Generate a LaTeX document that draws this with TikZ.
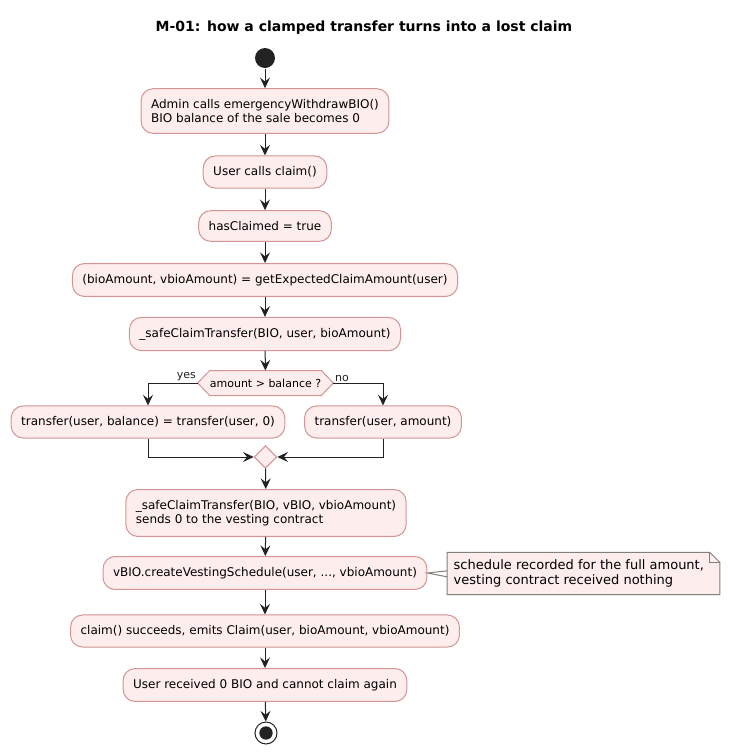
\documentclass[tikz,border=0pt]{standalone}
\usepackage{fontspec}
\setmainfont{DejaVu Sans}
\usetikzlibrary{arrows.meta,shapes.geometric}
\definecolor{actfill}{HTML}{FDEDEC}
\definecolor{actline}{HTML}{D29494}
\definecolor{ink}{HTML}{222222}
\tikzset{
  actnode/.style = {align=left, inner xsep=7.5pt, inner ysep=8pt,
    font=\fontsize{9}{10.5}\selectfont},
  act_box/.style = {actnode, draw=actline, fill=actfill, rounded corners=9pt},% action
  act_dec/.style = {actnode, minimum width=101pt, minimum height=18pt, inner sep=0pt,
    font=\fontsize{8.25}{10}\selectfont},% decision, outline drawn afterwards
  act_merge/.style = {diamond, draw=actline, fill=actfill, minimum width=17pt,
    minimum height=17pt, inner sep=0pt},% merge
  act_start/.style = {circle, fill=ink, minimum size=15pt, inner sep=0pt},
  act_stop/.style = {circle, draw=ink, minimum size=16.5pt, inner sep=0pt,
    path picture={\fill[ink] (path picture bounding box.center) circle (5pt);}},
  notenode/.style = {align=left, inner xsep=4.5pt, inner ysep=5pt,
    font=\fontsize{9.75}{11.6}\selectfont},
  branchlbl/.style = {font=\fontsize{8.25}{10}\selectfont, inner sep=1pt}
}
\begin{document}
\begin{tikzpicture}[x=0.75pt, y=-0.75pt, line width=0.75pt,
  >={Stealth[length=8pt, width=7.5pt, inset=3pt]}]
  \useasboundingbox (0,0) rectangle (730,754);
  \node [font=\bfseries\fontsize{10.5}{12}\selectfont] (title) at (364,28)
    {M-01: how a clamped transfer turns into a lost claim};
  \node [act_start] (start) at (265,58) {};
  \node [act_box] (withdraw) at (265,111)
    {Admin calls emergencyWithdrawBIO()\\BIO balance of the sale becomes 0};
  \node [act_box] (callclaim) at (265,172) {User calls claim()};
  \node [act_box] (hasclaimed) at (265,226) {hasClaimed = true};
  \node [act_box] (expected) at (265,280)
    {(bioAmount, vbioAmount) = getExpectedClaimAmount(user)};
  \node [act_box] (safebio) at (265,334) {\_safeClaimTransfer(BIO, user, bioAmount)};
  \node [act_dec] (check) at (265.5,383) {amount > balance ?};
  \draw [actline, fill=actfill] (check.west) -- ([xshift=9pt]check.north west)
    -- ([xshift=-9pt]check.north east) -- (check.east)
    -- ([xshift=-9pt]check.south east) -- ([xshift=9pt]check.south west) -- cycle;
  \node [act_dec] at (check) {amount > balance ?};
  \node [act_box] (clamped) at (148,422) {transfer(user, balance) = transfer(user, 0)};
  \node [act_box] (full) at (383,422) {transfer(user, amount)};
  \node [act_merge] (merge) at (265.5,457) {};
  \node [act_box] (safevbio) at (266,513)
    {\_safeClaimTransfer(BIO, vBIO, vbioAmount)\\sends 0 to the vesting contract};
  \node [act_box] (schedule) at (265,573)
    {vBIO.createVestingSchedule(user, ..., vbioAmount)};
  \node [notenode] (note) at (583.5,573.5)
    {schedule recorded for the full amount,\hspace*{7pt}\\vesting contract received nothing};
  \node [act_box] (emit) at (265,631)
    {claim() succeeds, emits Claim(user, bioAmount, vbioAmount)};
  \node [act_box] (lost) at (265,685) {User received 0 BIO and cannot claim again};
  \node [act_stop] (stop) at (266,733) {};
  % note outline with folded corner
  \draw [gray, fill=actfill] (note.north west) -- ([xshift=-7.5pt]note.north east)
    -- ([yshift=-7.5pt]note.north east) -- (note.south east) -- (note.south west) -- cycle;
  \draw [gray] ([xshift=-7.5pt]note.north east) |- ([yshift=-7.5pt]note.north east);
  \node [notenode] at (note)
    {schedule recorded for the full amount,\hspace*{7pt}\\vesting contract received nothing};
  \draw [gray] ([yshift=2pt]note.west) -- (schedule.east) -- ([yshift=-2.5pt]note.west);
  % flow
  \draw [->, ink] (start) -- (withdraw);
  \draw [->, ink] (withdraw) -- (callclaim);
  \draw [->, ink] (callclaim) -- (hasclaimed);
  \draw [->, ink] (hasclaimed) -- (expected);
  \draw [->, ink] (expected) -- (safebio);
  \draw [->, ink] (safebio) -- (check);
  \draw [->, ink] (check.west) -| (clamped.north)
    node [pos=0, above left, branchlbl] {yes};
  \draw [->, ink] (check.east) -| (full.north)
    node [pos=0, above right, branchlbl] {no};
  \draw [->, ink] (clamped.south) |- (merge.west);
  \draw [->, ink] (full.south) |- (merge.east);
  \draw [->, ink] (merge) -- (safevbio);
  \draw [->, ink] (safevbio) -- (schedule);
  \draw [->, ink] (schedule) -- (emit);
  \draw [->, ink] (emit) -- (lost);
  \draw [->, ink] (lost) -- (stop);
\end{tikzpicture}
\end{document}
